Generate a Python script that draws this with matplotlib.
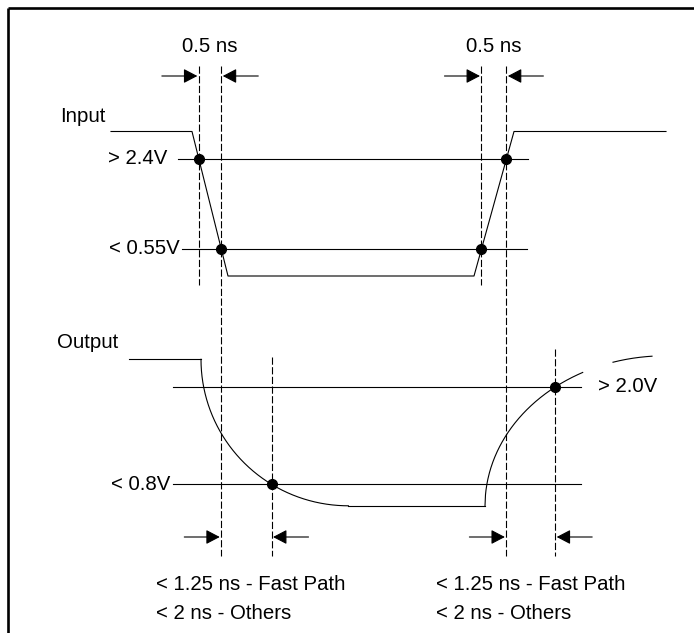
import numpy as np
import matplotlib.pyplot as plt

# ── diagram values (pixel units, y grows downward) ──────────────────────────
# input waveform corners
input_x = [111, 192, 228, 474, 514, 666]
input_y = [131.5, 131.5, 276, 276, 131.5, 131.5]

# input thresholds
in_levels = [159, 249]
in_level_labels = ["> 2.4V", "< 0.55V"]
in_level_x0 = [178, 182]
in_level_x1 = [528, 527]
in_label_x = [167, 180]

# output waveform: high / low plateaus and the two curved edges
out_high = 359.3
out_low = 505.8
out_high_x = [129, 201]
out_low_x = [348, 485]
fall_center = (348.4, 359.3)
fall_radii = (147.4, 146.5)
rise_center = (665.2, 505.8)
rise_radii = (180.2, 150.0)
rise_pieces = [(485, 582.7), (613, 652)]

# output thresholds
out_levels = [387, 484.3]
out_level_labels = ["> 2.0V", "< 0.8V"]
out_level_x0 = [173, 173]
out_level_x1 = [581, 581]

# annotation text
top_label = "0.5 ns"
bottom_lines = ["< 1.25 ns - Fast Path", "< 2 ns - Others"]

# ── look & feel ──────────────────────────────────────────────────────────────
plt.rcParams["font.family"] = ["Liberation Sans", "DejaVu Sans"]
FS = 14.7
LW = 0.8
DASH = (6.5, 2.2)

fig = plt.figure(figsize=(6.94, 6.33), dpi=100)
ax = fig.add_axes([0, 0, 1, 1])
ax.set_xlim(0, 694)
ax.set_ylim(633, 0)
ax.axis("off")

# frame (top + left edge only visible)
ax.plot([8, 694], [7.5, 7.5], color="black", lw=1.9, solid_capstyle="butt")
ax.plot([8, 8], [7.5, 633], color="black", lw=1.9, solid_capstyle="butt")

# ── input ────────────────────────────────────────────────────────────────────
ax.plot(input_x, input_y, color="black", lw=LW)
for lvl, lab, x0, x1, lx in zip(in_levels, in_level_labels, in_level_x0,
                                in_level_x1, in_label_x):
    ax.plot([x0, x1], [lvl, lvl], color="black", lw=LW)
    ax.text(lx, lvl, lab, ha="right", va="center", fontsize=FS)
ax.text(60, 117, "Input", ha="left", va="center", fontsize=FS)

# crossing points on the falling / rising edges
fall_x = np.interp(in_levels, input_y[1:3], input_x[1:3])
rise_x = np.interp(in_levels, input_y[3:5][::-1], input_x[3:5][::-1])
in_dots_x = list(fall_x) + list(rise_x)
in_dots_y = in_levels + in_levels
ax.plot(in_dots_x, in_dots_y, "o", color="black", ms=7)

# ── output ───────────────────────────────────────────────────────────────────
ax.plot(out_high_x, [out_high] * 2, color="black", lw=LW)
ax.plot(out_low_x, [out_low] * 2, color="black", lw=LW)

t = np.linspace(0, np.pi / 2, 200)
fx = fall_center[0] - fall_radii[0] * np.cos(t)
fy = fall_center[1] + fall_radii[1] * np.sin(t)
ax.plot(fx, fy, color="black", lw=LW)

for xa, xb in rise_pieces:
    xs = np.linspace(xa, xb, 200)
    u = np.clip((rise_center[0] - xs) / rise_radii[0], -1, 1)
    ys = rise_center[1] - rise_radii[1] * np.sqrt(1 - u ** 2)
    ax.plot(xs, ys, color="black", lw=LW)

for lvl, lab, x0, x1 in zip(out_levels, out_level_labels, out_level_x0,
                            out_level_x1):
    ax.plot([x0, x1], [lvl, lvl], color="black", lw=LW)
ax.text(598, out_levels[0], out_level_labels[0], ha="left", va="center",
        fontsize=FS)
ax.text(170, out_levels[1], out_level_labels[1], ha="right", va="center",
        fontsize=FS)
ax.text(57, 343, "Output", ha="left", va="center", fontsize=FS)

# crossing dots on the output edges
v = (out_levels[1] - fall_center[1]) / fall_radii[1]
out_fall_x = fall_center[0] - fall_radii[0] * np.sqrt(1 - v ** 2)
w = (rise_center[1] - out_levels[0]) / rise_radii[1]
out_rise_x = rise_center[0] - rise_radii[0] * np.sqrt(1 - w ** 2)
ax.plot([out_fall_x, out_rise_x], [out_levels[1], out_levels[0]], "o",
        color="black", ms=7)

# ── dashed timing markers ────────────────────────────────────────────────────
markers = [
    (fall_x[0], 66, 285), (fall_x[1], 66, 556),
    (rise_x[1], 66, 285), (rise_x[0], 66, 556),
    (out_fall_x, 357, 556), (out_rise_x, 349, 556),
]
for x, y0, y1 in markers:
    ax.plot([x, x], [y0, y1], color="black", lw=LW, dashes=DASH)


def bracket(xl, xr, y):
    for tail, tip in ((xl - 37, xl - 1.5), (xr + 37, xr + 1.5)):
        ax.annotate("", xy=(tip, y), xytext=(tail, y),
                    arrowprops=dict(arrowstyle="-|>,head_length=0.42,head_width=0.22",
                                    mutation_scale=20, color="black", lw=LW,
                                    shrinkA=0, shrinkB=0))


# 0.5 ns input windows
for xl, xr in ((fall_x[0], fall_x[1]), (rise_x[1], rise_x[0])):
    bracket(xl, xr, 76)
    ax.text((xl + xr) / 2, 47, top_label, ha="center", va="center", fontsize=FS)

# output delay windows
bracket(fall_x[1], out_fall_x, 537)
bracket(rise_x[0], out_rise_x, 537)
for x0 in (156, 436):
    for line, y in zip(bottom_lines, (584, 613.5)):
        ax.text(x0, y, line, ha="left", va="center", fontsize=FS)

fig.savefig("out.png", dpi=100)
